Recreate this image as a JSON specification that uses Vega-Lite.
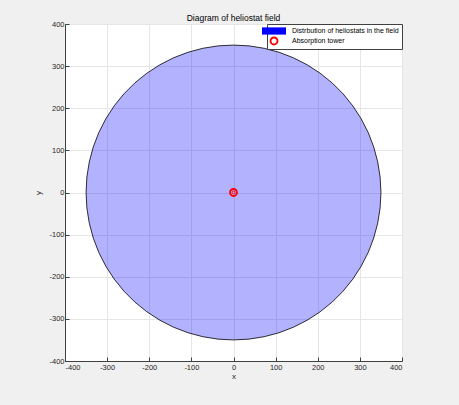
{
  "$schema": "https://vega.github.io/schema/vega-lite/v6.json",
  "width": 337,
  "height": 337,
  "autosize": {"type": "none"},
  "padding": {"left": 65, "top": 24, "right": 57, "bottom": 44},
  "background": "#f0f0f0",
  "title": {"text": "Diagram of heliostat field", "fontSize": 8.5, "font": "Liberation Sans", "fontWeight": "normal", "color": "#000000", "offset": -2},
  "config": {
    "view": {"fill": "white", "stroke": null},
    "axis": {
      "grid": true, "gridColor": "#e6e6e6", "gridWidth": 1,
      "domainColor": "#404040", "domainWidth": 1,
      "tickColor": "#404040", "tickSize": -4,
      "labelFont": "Liberation Sans", "labelFontSize": 7.5, "labelColor": "#262626",
      "titleFont": "Liberation Sans", "titleFontSize": 8, "titleFontWeight": "normal", "titleColor": "#262626"
    },
    "legend": {
      "orient": "top-right", "offset": 0,
      "fillColor": "white", "strokeColor": "#404040",
      "padding": 3, "labelFont": "Liberation Sans", "labelFontSize": 7, "labelColor": "#000000",
      "symbolSize": 64, "symbolStrokeWidth": 0, "rowPadding": 1, "labelOffset": 14
    }
  },
  "layer": [
    {
      "data": {"values": [
        {"x": -350, "ytop": 0, "ybot": 0},
        {"x": -348.08, "ytop": 36.59, "ybot": -36.59},
        {"x": -342.35, "ytop": 72.77, "ybot": -72.77},
        {"x": -332.87, "ytop": 108.16, "ybot": -108.16},
        {"x": -319.74, "ytop": 142.36, "ybot": -142.36},
        {"x": -303.11, "ytop": 175, "ybot": -175},
        {"x": -283.16, "ytop": 205.73, "ybot": -205.73},
        {"x": -260.1, "ytop": 234.2, "ybot": -234.2},
        {"x": -234.2, "ytop": 260.1, "ybot": -260.1},
        {"x": -205.73, "ytop": 283.16, "ybot": -283.16},
        {"x": -175, "ytop": 303.11, "ybot": -303.11},
        {"x": -142.36, "ytop": 319.74, "ybot": -319.74},
        {"x": -108.16, "ytop": 332.87, "ybot": -332.87},
        {"x": -72.77, "ytop": 342.35, "ybot": -342.35},
        {"x": -36.59, "ytop": 348.08, "ybot": -348.08},
        {"x": 0, "ytop": 350, "ybot": -350},
        {"x": 36.59, "ytop": 348.08, "ybot": -348.08},
        {"x": 72.77, "ytop": 342.35, "ybot": -342.35},
        {"x": 108.16, "ytop": 332.87, "ybot": -332.87},
        {"x": 142.36, "ytop": 319.74, "ybot": -319.74},
        {"x": 175, "ytop": 303.11, "ybot": -303.11},
        {"x": 205.73, "ytop": 283.16, "ybot": -283.16},
        {"x": 234.2, "ytop": 260.1, "ybot": -260.1},
        {"x": 260.1, "ytop": 234.2, "ybot": -234.2},
        {"x": 283.16, "ytop": 205.73, "ybot": -205.73},
        {"x": 303.11, "ytop": 175, "ybot": -175},
        {"x": 319.74, "ytop": 142.36, "ybot": -142.36},
        {"x": 332.87, "ytop": 108.16, "ybot": -108.16},
        {"x": 342.35, "ytop": 72.77, "ybot": -72.77},
        {"x": 348.08, "ytop": 36.59, "ybot": -36.59},
        {"x": 350, "ytop": 0, "ybot": 0}
      ]},
      "mark": {"type": "area", "fill": "#0000ff", "fillOpacity": 0.3, "stroke": "#000000", "strokeWidth": 0.8},
      "encoding": {
        "x": {"field": "x", "type": "quantitative", "scale": {"domain": [-400, 400], "nice": false, "zero": false},
              "axis": {"title": "x", "values": [-400, -300, -200, -100, 0, 100, 200, 300, 400], "labelExpr": "'' + datum.value", "labelPadding": 6, "titlePadding": 2}},
        "y": {"field": "ytop", "type": "quantitative", "scale": {"domain": [-400, 400], "nice": false, "zero": false},
              "axis": {"title": "y", "values": [-400, -300, -200, -100, 0, 100, 200, 300, 400], "labelExpr": "'' + datum.value", "labelPadding": 5, "titlePadding": 6}},
        "y2": {"field": "ybot"}
      }
    },
    {
      "data": {"values": [{"x": 0, "y": 0, "series": "Absorption tower"}]},
      "mark": {"type": "point", "filled": true, "size": 64, "opacity": 1, "strokeWidth": 0},
      "encoding": {
        "x": {"field": "x", "type": "quantitative"},
        "y": {"field": "y", "type": "quantitative"},
        "color": {"field": "series", "type": "nominal",
                  "scale": {"domain": ["Distrbution of heliostats in the field", "Absorption tower"], "range": ["#0000ff", "#ff0000"]},
                  "legend": {"title": null}},
        "shape": {"field": "series", "type": "nominal",
                  "scale": {"domain": ["Distrbution of heliostats in the field", "Absorption tower"],
                            "range": ["M-3,-0.9H3V0.9H-3Z", "M1.1,0A1.1,1.1,0,1,1,-1.1,0A1.1,1.1,0,1,1,1.1,0Z M0.65,0A0.65,0.65,0,1,0,-0.65,0A0.65,0.65,0,1,0,0.65,0Z"]},
                  "legend": {"title": null}}
      }
    },
    {
      "data": {"values": [{"x": 0, "y": 0}]},
      "mark": {"type": "point", "filled": false, "size": 8, "stroke": "#ff0000", "strokeWidth": 1, "opacity": 1},
      "encoding": {
        "x": {"field": "x", "type": "quantitative"},
        "y": {"field": "y", "type": "quantitative"}
      }
    }
  ]
}
